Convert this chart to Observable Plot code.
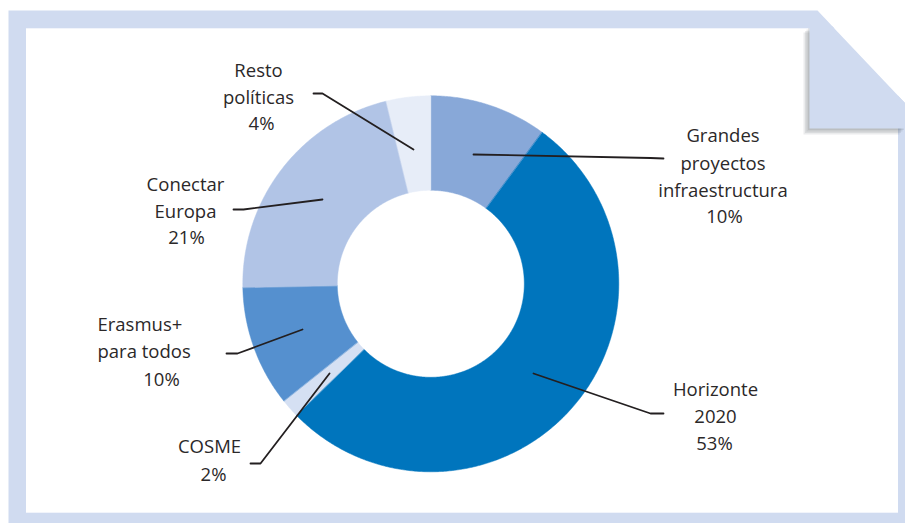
<!DOCTYPE html>
<html><head><meta charset="utf-8">
<script src="https://cdn.jsdelivr.net/npm/d3@7"></script>
<script src="https://cdn.jsdelivr.net/npm/@observablehq/plot@0.6"></script>
<style>html,body{margin:0;padding:0;background:#fff;overflow:hidden}</style>
</head><body><div id="chart"></div>
<script>
// ---- data ----
const categories = ["Grandes proyectos infraestructura","Horizonte 2020","COSME","Erasmus+ para todos","Conectar Europa","Resto políticas"];
const nameLabels = ["Grandes\nproyectos\ninfraestructura","Horizonte\n2020","COSME","Erasmus+\npara todos","Conectar\nEuropa","Resto\npolíticas"];
const shares = [10.1, 52.6, 1.6, 10.4, 21.5, 3.8];
const pctLabels = ["10%","53%","2%","10%","21%","4%"];

// ---- styles ----
const colors = ["#88a8d8","#0075bd","#d5e0f3","#5590cf","#b1c4e6","#e7edf8"];
const frameColor = "#d0dbf0";

// ---- layout (pixels) ----
const cx = 430.3, cy = 283.3, R = 188, r = 93.5;
const nameLayout = [
  {x:722.5, y:196, anchor:"middle"},
  {x:715, y:422, anchor:"middle"},
  {x:209, y:452, anchor:"middle"},
  {x:97, y:357, anchor:"start"},
  {x:185, y:217, anchor:"middle"},
  {x:258, y:103, anchor:"middle"}
];
const pctLayout = [
  {x:724, y:222},{x:714, y:449},{x:213, y:480},{x:161, y:385},{x:186, y:243},{x:261, y:129}
];
const leaderLayout = [
  [[473,154],[650,157.5],[663,158]],
  [[533,373],[650,413],[663,413]],
  [[329,373],[260,463],[250,463]],
  [[302,329],[237,353],[226,353]],
  [[322,199],[243,209],[233,209]],
  [[413,149],[322,93],[313,93]]
];
const outerFrame = [[8,10],[817,10],[905,103],[905,523],[8,523]];
const flap = [[809,26],[832,26],[905,103],[905,128],[809,128]];
const shadowSteps = [1.5, 3, 4.5, 6];

// ---- derived ----
const total = d3.sum(shares);
const slicePts = [];
let acc = 0;
categories.forEach((c, i) => {
  const a0 = acc / total * 2 * Math.PI; acc += shares[i]; const a1 = acc / total * 2 * Math.PI;
  const n = Math.max(2, Math.ceil((a1 - a0) / (Math.PI / 360)));
  for (let k = 0; k <= n; k++) { const a = a0 + (a1 - a0) * k / n; slicePts.push({cat:c, x:cx + R*Math.sin(a), y:cy - R*Math.cos(a)}); }
  for (let k = n; k >= 0; k--) { const a = a0 + (a1 - a0) * k / n; slicePts.push({cat:c, x:cx + r*Math.sin(a), y:cy - r*Math.cos(a)}); }
});
const labelData = categories.map((c, i) => ({cat:c, text:nameLabels[i], ...nameLayout[i]}));
const pctData = categories.map((c, i) => ({cat:c, text:pctLabels[i], ...pctLayout[i]}));
const leaderPts = leaderLayout.flatMap((pts, i) => pts.map(([x, y]) => ({cat:categories[i], x, y})));
const toPts = arr => arr.map(([x, y]) => ({x, y}));
const shadowPts = shadowSteps.flatMap(d => flap.map(([x, y]) => ({step:d, x:x - d, y:y + d})));

const textOpts = {fontSize:18.5, fill:"#2b2829", lineHeight:1.46, lineAnchor:"bottom", fontFamily:"Open Sans"};

const chart = Plot.plot({
  width:905, height:523, margin:0,
  x:{domain:[0,905], range:[0,905], axis:null},
  y:{domain:[0,523], range:[0,523], axis:null},
  color:{domain:categories, range:colors},
  style:{background:"transparent", fontFamily:"Open Sans"},
  marks:[
    Plot.line(toPts(outerFrame), {x:"x", y:"y", fill:frameColor, stroke:"none", curve:"linear-closed"}),
    Plot.rect([{x1:26, x2:898, y1:28.3, y2:512.7}], {x1:"x1", x2:"x2", y1:"y1", y2:"y2", fill:"white"}),
    Plot.line(shadowPts, {x:"x", y:"y", z:"step", fill:"#4a4f5a", fillOpacity:0.11, stroke:"none", curve:"linear-closed"}),
    Plot.line(toPts(flap), {x:"x", y:"y", fill:frameColor, stroke:"none", curve:"linear-closed"}),
    Plot.line(slicePts, {x:"x", y:"y", z:"cat", fill:"cat", stroke:"cat", strokeWidth:0.5, curve:"linear-closed"}),
    Plot.line(leaderPts, {x:"x", y:"y", z:"cat", stroke:"#231f20", strokeWidth:1.8}),
    Plot.text(labelData.filter(d => d.anchor === "middle"), {x:"x", y:"y", text:"text", textAnchor:"middle", ...textOpts}),
    Plot.text(labelData.filter(d => d.anchor === "start"), {x:"x", y:"y", text:"text", textAnchor:"start", ...textOpts}),
    Plot.text(pctData, {x:"x", y:"y", text:"text", textAnchor:"middle", ...textOpts})
  ]
});

document.getElementById("chart").appendChild(chart);
</script>
</body></html>
